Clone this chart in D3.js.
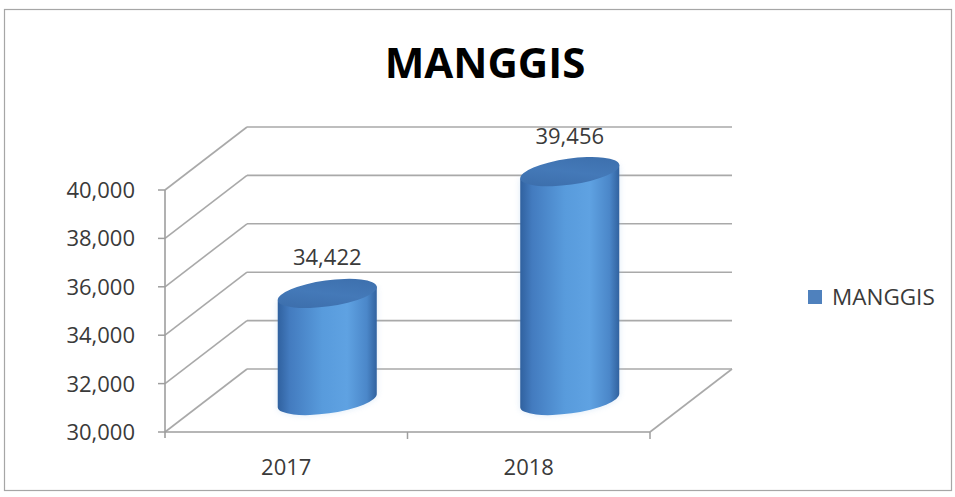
<!DOCTYPE html>
<html><head><meta charset="utf-8">
<script src="https://cdn.jsdelivr.net/npm/d3@7"></script>
<style>html,body{margin:0;padding:0;background:#fff;}svg{display:block;font-family:"Open Sans",sans-serif;}</style>
</head><body><svg id="c" width="955" height="497"></svg>
<script>
const title = "MANGGIS";
const seriesName = "MANGGIS";
const categories = ["2017", "2018"];
const values = [34422, 39456];
const yTicks = [30000, 32000, 34000, 36000, 38000, 40000];

const svg = d3.select("#c");
const fmt = d3.format(",");
// layout
const x0 = 165, x1 = 650, yBottom = 432, yTop = 190;
const depthX = 82, depthY = -63;
const y = d3.scaleLinear().domain([30000, 40000]).range([yBottom, yTop]);
const x = d3.scaleBand().domain(categories).range([x0, x1]);

// frame
svg.append("rect").attr("x", 4.5).attr("y", 9.5).attr("width", 947).attr("height", 481)
  .attr("fill", "#fff").attr("stroke", "#a6a6a6").attr("stroke-width", 1.2);

// defs
const defs = svg.append("defs");
const g1 = defs.append("linearGradient").attr("id", "body").attr("x1", "0").attr("x2", "1").attr("y1", "0").attr("y2", "0");
[[0, "#30619f"], [0.12, "#437bbf"], [0.45, "#589bdc"], [0.7, "#5fa2e2"], [0.9, "#4b87c9"], [1, "#31629f"]]
  .forEach(([o, c]) => g1.append("stop").attr("offset", o).attr("stop-color", c));
const g2 = defs.append("linearGradient").attr("id", "top").attr("x1", "0").attr("x2", "1").attr("y1", "1").attr("y2", "0");
[[0, "#3a6ba8"], [0.5, "#4479b8"], [1, "#3b6daa"]]
  .forEach(([o, c]) => g2.append("stop").attr("offset", o).attr("stop-color", c));
const gl = defs.append("filter").attr("id", "glow").attr("x", "-20%").attr("y", "-20%").attr("width", "140%").attr("height", "140%");
gl.append("feGaussianBlur").attr("stdDeviation", 3);

const grid = "#a9a9a9";
// back wall gridlines and side wall diagonals
yTicks.forEach(t => {
  svg.append("line").attr("x1", x0).attr("y1", y(t)).attr("x2", x0 + depthX).attr("y2", y(t) + depthY)
    .attr("stroke", grid).attr("stroke-width", 1.6);
  svg.append("line").attr("x1", x0 + depthX).attr("y1", y(t) + depthY).attr("x2", x1 + depthX).attr("y2", y(t) + depthY)
    .attr("stroke", grid).attr("stroke-width", 1.6);
});
// floor right edge
svg.append("line").attr("x1", x1).attr("y1", yBottom).attr("x2", x1 + depthX).attr("y2", yBottom + depthY)
  .attr("stroke", grid).attr("stroke-width", 1.6);

// axes
const axisCol = "#9e9e9e";
svg.append("line").attr("x1", x0).attr("y1", yTop).attr("x2", x0).attr("y2", yBottom + 6).attr("stroke", axisCol).attr("stroke-width", 1.6);
svg.append("line").attr("x1", x0).attr("y1", yBottom).attr("x2", x1).attr("y2", yBottom).attr("stroke", axisCol).attr("stroke-width", 1.6);
yTicks.forEach(t => {
  svg.append("line").attr("x1", x0 - 7).attr("x2", x0).attr("y1", y(t)).attr("y2", y(t)).attr("stroke", axisCol).attr("stroke-width", 1.5);
  svg.append("text").attr("x", 135).attr("y", y(t)).attr("dy", "0.36em").attr("text-anchor", "end")
    .attr("font-size", 22).attr("fill", "#3a3a3a").text(fmt(t));
});
// x ticks at category boundaries
const bounds = [x0 + x.bandwidth(), x1];
bounds.forEach(b => {
  svg.append("line").attr("x1", b).attr("x2", b).attr("y1", yBottom).attr("y2", yBottom + 7).attr("stroke", axisCol).attr("stroke-width", 1.5);
});
categories.forEach(c => {
  svg.append("text").attr("x", x(c) + x.bandwidth() / 2).attr("y", 475).attr("text-anchor", "middle")
    .attr("font-size", 22).attr("fill", "#3a3a3a").text(c);
});

// cylinders
const rx = 50, ry = 13, rot = -8;
const th = rot * Math.PI / 180;
const ex = rx * Math.cos(th), ey = rx * Math.sin(th);
categories.forEach((c, i) => {
  const cx = x(c) + x.bandwidth() / 2 + depthX / 2;
  const cyTop = y(values[i]) + depthY / 2;
  const cyBot = y(30000) + depthY / 2;
  const body = `M${cx - ex},${cyTop - ey} L${cx - ex},${cyBot - ey} A${rx},${ry} ${rot} 0 0 ${cx + ex},${cyBot + ey} L${cx + ex},${cyTop + ey} Z`;
  svg.append("path").attr("d", body).attr("fill", "#9cc3ea").attr("opacity", 0.35).attr("filter", "url(#glow)");
  svg.append("path").attr("d", body).attr("fill", "url(#body)");
  svg.append("ellipse").attr("cx", cx).attr("cy", cyTop).attr("rx", rx).attr("ry", ry)
    .attr("transform", `rotate(${rot},${cx},${cyTop})`).attr("fill", "url(#top)");
  svg.append("text").attr("x", cx).attr("y", cyTop - ry - 15).attr("text-anchor", "middle")
    .attr("font-size", 22).attr("fill", "#3a3a3a").text(fmt(values[i]));
});

// title
svg.append("text").attr("x", 485).attr("y", 78).attr("text-anchor", "middle")
  .attr("font-size", 42).attr("font-weight", "bold").attr("fill", "#000").text(title);

// legend
svg.append("rect").attr("x", 808).attr("y", 290).attr("width", 14).attr("height", 14).attr("fill", "#4f81bd");
svg.append("text").attr("x", 832).attr("y", 297).attr("dy", "0.36em").attr("font-size", 22.5).attr("fill", "#3a3a3a").text(seriesName);
</script></body></html>
